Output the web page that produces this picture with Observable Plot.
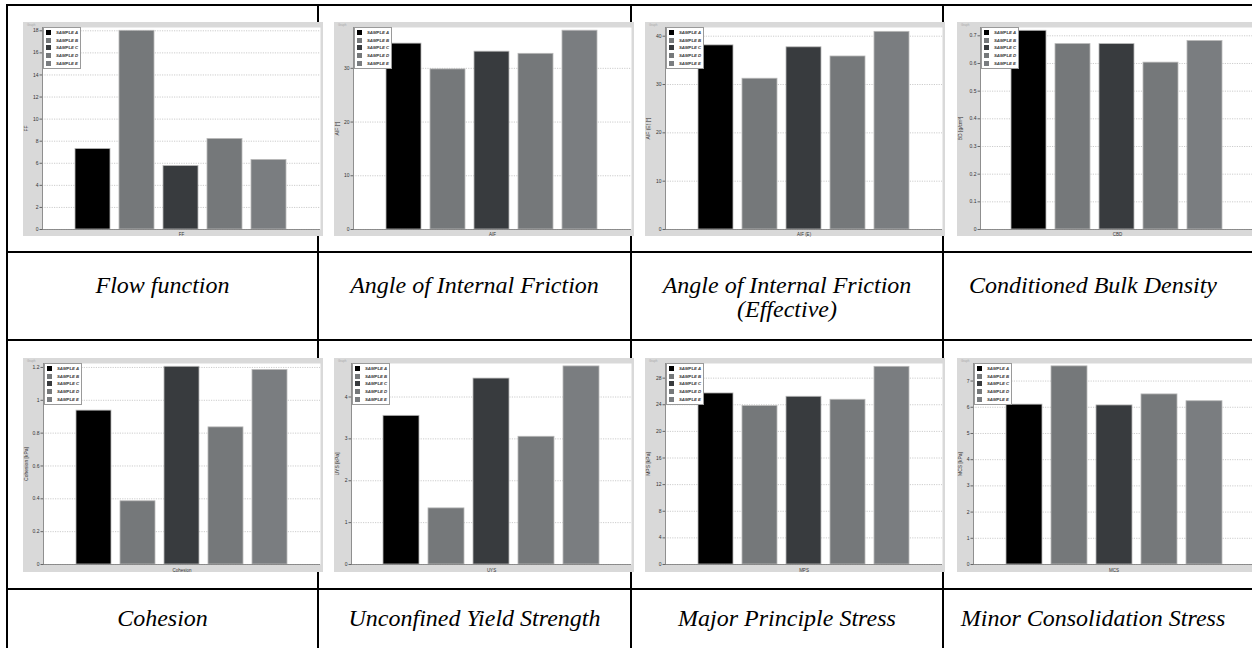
<!DOCTYPE html>
<html>
<head>
<meta charset="utf-8">
<script src="https://cdn.jsdelivr.net/npm/d3@7"></script>
<script src="https://cdn.jsdelivr.net/npm/@observablehq/plot@0.6"></script>
<style>
  html, body { margin: 0; padding: 0; background: #fff; }
  #page { position: relative; width: 1252px; height: 648px; overflow: hidden; background: #fff; }
  .hline, .vline { position: absolute; background: #000; }
  .chart { position: absolute; width: 300px; height: 214px; }
  .chart svg { display: block; max-width: none !important; }
  .caption { position: absolute; text-align: center; white-space: pre-line; font-family: "Liberation Serif", "Times New Roman", serif; font-style: italic; font-size: 24px; line-height: 24px; color: #000; }
  .legend { position: absolute; background: #fff; border: 1px solid #9a9a9a; padding: 1px 2px 1px 2px; font-family: "Liberation Sans", Arial, sans-serif; font-size: 4.3px; font-style: italic; font-weight: bold; color: #333; }
  .legend .row { display: flex; align-items: center; height: 7.6px; }
  .legend .sw { width: 5px; height: 5px; margin-right: 5px; flex: none; }
  .graphtag { position: absolute; font-family: "Liberation Sans", Arial, sans-serif; font-size: 3px; color: #aaa; }
</style>
</head>
<body>
<div id="page"></div>
<script>
// ---------- data ----------
const samples = ["SAMPLE A", "SAMPLE B", "SAMPLE C", "SAMPLE D", "SAMPLE E"];
const sampleColors = ["#000000", "#75787a", "#383b3e", "#75787a", "#7a7d80"];

const captions = ["Flow function", "Angle of Internal Friction", "Angle of Internal Friction\n(Effective)", "Conditioned Bulk Density",
                  "Cohesion", "Unconfined Yield Strength", "Major Principle Stress", "Minor Consolidation Stress"];
const yLabels = ["FF", "AIF [°]", "AIF (E) [°]", "BD [g/cm³]", "Cohesion [kPa]", "UYS [kPa]", "MPS [kPa]", "MCS [kPa]"];
const xLabels = ["FF", "AIF", "AIF (E)", "CBD", "Cohesion", "UYS", "MPS", "MCS"];

const ffValues       = [7.3, 18.0, 5.75, 8.2, 6.3];
const aifValues      = [34.6, 29.8, 33.1, 32.7, 37.0];
const aifEValues     = [38.1, 31.2, 37.7, 35.8, 40.9];
const cbdValues      = [0.718, 0.670, 0.670, 0.603, 0.681];
const cohesionValues = [0.937, 0.385, 1.204, 0.835, 1.184];
const uysValues      = [3.55, 1.34, 4.44, 3.05, 4.73];
const mpsValues      = [25.7, 23.8, 25.2, 24.75, 29.7];
const mcsValues      = [6.10, 7.56, 6.07, 6.49, 6.23];

const ffTicks       = [0, 2, 4, 6, 8, 10, 12, 14, 16, 18];
const aifTicks      = [0, 10, 20, 30];
const aifETicks     = [0, 10, 20, 30, 40];
const cbdTicks      = [0, 0.1, 0.2, 0.3, 0.4, 0.5, 0.6, 0.7];
const cohesionTicks = [0, 0.2, 0.4, 0.6, 0.8, 1, 1.2];
const uysTicks      = [0, 1, 2, 3, 4];
const mpsTicks      = [0, 4, 8, 12, 16, 20, 24, 28];
const mcsTicks      = [0, 1, 2, 3, 4, 5, 6, 7];

const yMaxes = [18.3, 37.6, 41.8, 0.73, 1.224, 4.80, 30.2, 7.67];

// ---------- layout ----------
const allValues = [ffValues, aifValues, aifEValues, cbdValues, cohesionValues, uysValues, mpsValues, mcsValues];
const allTicks  = [ffTicks, aifTicks, aifETicks, cbdTicks, cohesionTicks, uysTicks, mpsTicks, mcsTicks];
const chartLefts = [23, 334, 645, 957];
const chartTops = [22, 358];
const marginLefts = [19, 19, 20, 23, 20, 17, 20, 16];
const marginBottoms = [7, 7, 7, 7, 8, 8, 8, 8];
const cellEdges = [7, 318, 631, 943, 1243];
const captionTops = [273, 606];

const page = document.getElementById("page");

function addLine(cls, left, top, w, h) {
  const d = document.createElement("div");
  d.className = cls;
  Object.assign(d.style, {left: left + "px", top: top + "px", width: w + "px", height: h + "px"});
  page.appendChild(d);
}
// table lines
addLine("hline", 6, 4, 1260, 2);
addLine("hline", 6, 251, 1260, 2);
addLine("hline", 6, 339, 1260, 2);
addLine("hline", 6, 588, 1260, 2);
[6, 317, 630, 942].forEach(x => addLine("vline", x, 4, 2, 650));

const fmt = d => String(+d.toFixed(3));

for (let i = 0; i < 8; i++) {
  const col = i % 4, row = Math.floor(i / 4);
  const data = samples.map((s, j) => ({sample: s, value: allValues[i][j]}));
  const ml = marginLefts[i], mb = marginBottoms[i];
  const svg = Plot.plot({
    width: 300, height: 214,
    marginLeft: ml, marginRight: 3, marginTop: 5, marginBottom: mb,
    style: {background: "#d9d9d9", fontFamily: "Liberation Sans, Arial, sans-serif", color: "#333", overflow: "visible", maxWidth: "none"},
    x: {domain: samples, paddingInner: 0.2, paddingOuter: 0.7},
    y: {domain: [0, yMaxes[i]]},
    color: {domain: samples, range: sampleColors},
    marks: [
      Plot.frame({fill: "white"}),
      Plot.gridY(allTicks[i], {stroke: "#cccccc", strokeOpacity: 1, strokeDasharray: "1.2,1.2"}),
      Plot.barY(data, {x: "sample", y: "value", fill: "sample", stroke: "#b8b8b8", strokeWidth: 0.8}),
      Plot.axisY(allTicks[i], {tickSize: 2.5, tickPadding: 1.5, tickFormat: fmt, fontSize: 5, stroke: "#666", fill: "#333",
        label: yLabels[i], labelAnchor: "center", labelArrow: "none", labelOffset: ml - 1}),
      Plot.axisX([], {tickSize: 0, fontSize: 4.5, fill: "#333", label: xLabels[i], labelAnchor: "center", labelArrow: "none", labelOffset: mb - 0.5}),
      Plot.ruleY([0], {stroke: "#777", strokeWidth: 0.8}),
      Plot.frame({anchor: "left", stroke: "#777", strokeWidth: 0.8})
    ]
  });
  const wrap = document.createElement("div");
  wrap.className = "chart";
  wrap.style.left = chartLefts[col] + "px";
  wrap.style.top = chartTops[row] + "px";
  wrap.appendChild(svg);
  // legend
  const lg = document.createElement("div");
  lg.className = "legend";
  lg.style.left = (ml + 1) + "px";
  lg.style.top = "5px";
  samples.forEach((s, j) => {
    const r = document.createElement("div");
    r.className = "row";
    const sw = document.createElement("div");
    sw.className = "sw";
    sw.style.background = sampleColors[j];
    const t = document.createElement("span");
    t.textContent = s;
    r.appendChild(sw); r.appendChild(t);
    lg.appendChild(r);
  });
  wrap.appendChild(lg);
  const tag = document.createElement("div");
  tag.className = "graphtag";
  tag.style.left = "4px"; tag.style.top = "1px";
  tag.textContent = "Graph";
  wrap.appendChild(tag);
  page.appendChild(wrap);

  // caption
  const cap = document.createElement("div");
  cap.className = "caption";
  cap.style.left = cellEdges[col] + "px";
  cap.style.width = (cellEdges[col + 1] - cellEdges[col]) + "px";
  cap.style.top = captionTops[row] + "px";
  cap.textContent = captions[i];
  page.appendChild(cap);
}
</script>
</body>
</html>
